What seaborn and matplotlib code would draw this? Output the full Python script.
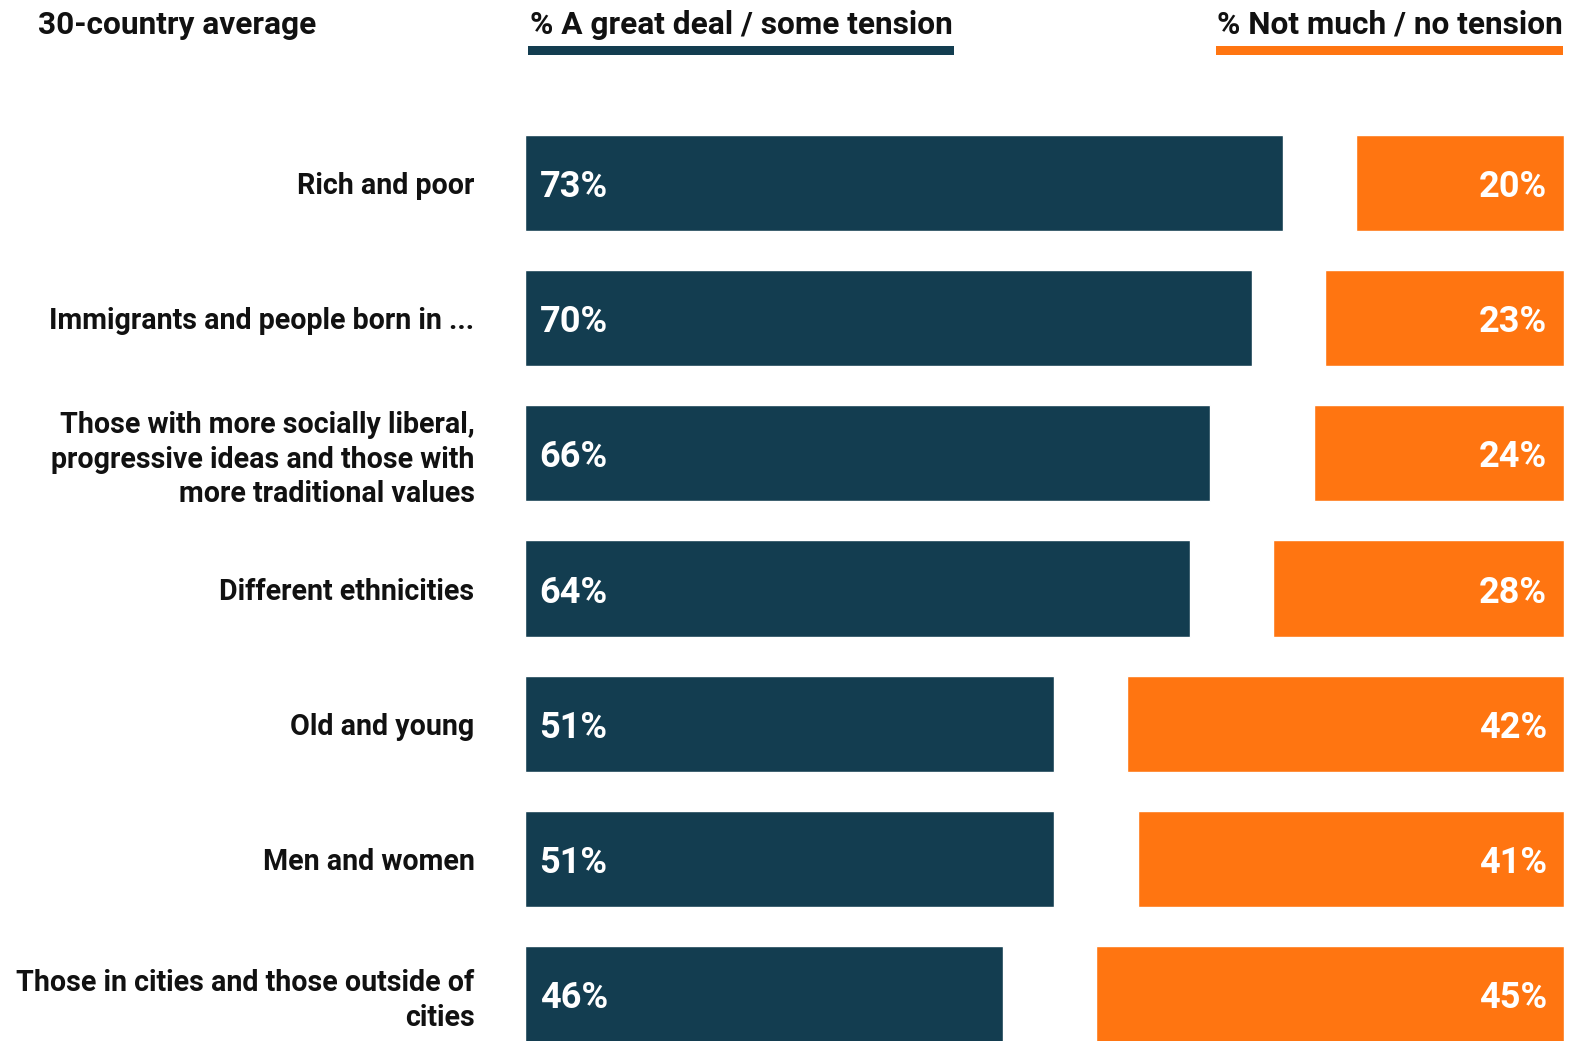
import pandas as pd
import matplotlib.pyplot as plt
import matplotlib.patches as mpatches
import seaborn as sns

# Dados do gráfico
categorias = [
    "Rich and poor",
    "Immigrants and people born in ...",
    "Those with more socially liberal,\nprogressive ideas and those with\nmore traditional values",
    "Different ethnicities",
    "Old and young",
    "Men and women",
    "Those in cities and those outside of\ncities",
]
tensao_alta = [73, 70, 66, 64, 51, 51, 46]
tensao_baixa = [20, 23, 24, 28, 42, 41, 45]

titulo_esq = "30-country average"
titulo_alta = "% A great deal / some tension"
titulo_baixa = "% Not much / no tension"

AZUL = "#133D50"
LARANJA = "#FF7511"

df = pd.DataFrame({"cat": categorias, "alta": tensao_alta, "baixa": tensao_baixa})

sns.set_style("white")
plt.rcParams["font.family"] = ["Roboto", "DejaVu Sans"]

fig = plt.figure(figsize=(15.91, 10.41), dpi=100)
ax = fig.add_axes([0.3297, 0.0, 0.6531, 0.8943])

# Barras azuis a partir da esquerda
sns.barplot(data=df, x="alta", y="cat", orient="h", color=AZUL, width=0.712,
            saturation=1, ax=ax)

# Barras laranja ancoradas na direita (eixo x invertido)
ax2 = ax.twiny()
sns.barplot(data=df, x="baixa", y="cat", orient="h", color=LARANJA, width=0.712,
            saturation=1, ax=ax2)

ax.set_xlim(0, 100)
ax2.set_xlim(100, 0)
ax.set_ylim(6.344, -0.537)

for a in (ax, ax2):
    a.set_xlabel("")
    a.set_ylabel("")
    a.set_xticks([])
    for s in a.spines.values():
        s.set_visible(False)

ax.tick_params(axis="y", length=0, pad=36)
ax.set_yticks(range(len(categorias)))
ax.set_yticklabels(categorias, fontsize=20.6, fontweight="bold", color="#111111",
                   ha="right", linespacing=1.3)
ax2.tick_params(axis="y", left=False, labelleft=False)

# Rótulos de valores
for i, (a, b) in enumerate(zip(tensao_alta, tensao_baixa)):
    ax.text(1.45, i, f"{a}%", color="white", fontsize=26, fontweight="bold",
            va="center_baseline", ha="left")
    ax2.text(1.6, i, f"{b}%", color="white", fontsize=26, fontweight="bold",
             va="center_baseline", ha="right")

# Cabeçalhos
fig.text(0.0236, 0.976, titulo_esq, fontsize=22.8, fontweight="bold",
         color="#111111", va="center", ha="left")
fig.text(0.333, 0.976, titulo_alta, fontsize=22.8, fontweight="bold",
         color="#111111", va="center", ha="left")
fig.text(0.982, 0.976, titulo_baixa, fontsize=22.8, fontweight="bold",
         color="#111111", va="center", ha="right")
fig.add_artist(mpatches.Rectangle((0.3316, 0.9472), 0.2678, 0.0082,
                                  transform=fig.transFigure, color=AZUL, lw=0))
fig.add_artist(mpatches.Rectangle((0.764, 0.9472), 0.2187, 0.0082,
                                  transform=fig.transFigure, color=LARANJA, lw=0))

fig.savefig("out.png", dpi=100, facecolor="white")
